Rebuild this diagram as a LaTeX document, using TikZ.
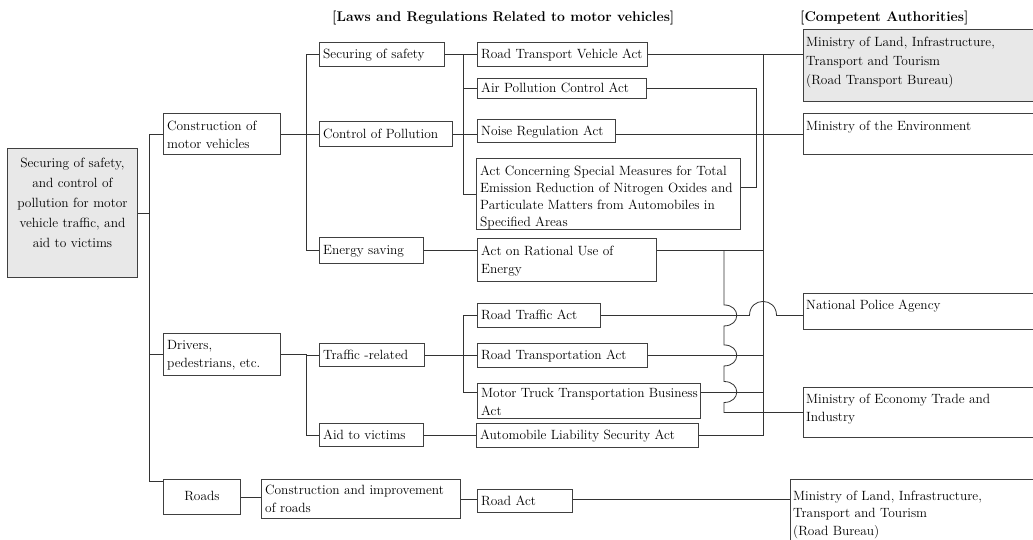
\documentclass[tikz,border=0pt]{standalone}
\newcommand\fs{\fontsize{13.4}{18.5}\selectfont}
\newcommand\fl{\rule{0pt}{11pt}}
\tikzset{
  bx/.style={draw=black!75, line width=0.9pt, anchor=north west, inner sep=0pt},
  gbx/.style={bx, fill=black!9},
  tx/.style={anchor=north west, inner sep=0pt, align=left, font=\fs},
  stx/.style={anchor=base west, inner sep=0pt, font=\fs},
  hd/.style={anchor=west, inner sep=0pt, font=\fontsize{14}{16}\selectfont\bfseries},
  ln/.style={draw=black!80, line width=0.8pt},
}
\begin{document}
\begin{tikzpicture}[x=1pt,y=-1pt]
\clip (0,0) rectangle (1033,540);
\fill[white] (0,0) rectangle (1033,540);
% headers
\node[hd] (hlaw) at (332,18) {[Laws and Regulations Related to motor vehicles]};
\node[hd] (hca) at (800,18) {[Competent Authorities]};
% root
\node[gbx,minimum width=130pt,minimum height=129pt] (root) at (7,148) {};
\node[tx,anchor=north,align=center,text width=130pt,font=\fontsize{13.4}{20}\selectfont] (root-t) at ([yshift=-8pt]root.north) {\fl Securing of safety,\\and control of\\pollution for motor\\vehicle traffic, and\\aid to victims};
% level 1
\node[bx,minimum width=117pt,minimum height=41pt] (cmv) at (163,113) {};
\node[tx] (cmv-t) at ([shift={(4,6)}]cmv.north west) {\fl Construction of\\motor vehicles};
\node[bx,minimum width=117pt,minimum height=42pt] (dpe) at (163,333) {};
\node[tx] (dpe-t) at ([shift={(4,5)}]dpe.north west) {\fl Drivers,\\pedestrians, etc.};
\node[bx,minimum width=77pt,minimum height=35pt] (roads) at (163,479) {};
\node[anchor=base,inner sep=0pt,font=\fs] (roads-t) at ([yshift=-4pt]roads.center) {Roads};
% level 2
\node[bx,minimum width=125pt,minimum height=24pt] (sos) at (319,42) {};
\node[stx] (sos-t) at ([shift={(4,4.5)}]sos.west) {Securing of safety};
\node[bx,minimum width=133pt,minimum height=25pt] (cop) at (319,121) {};
\node[stx] (cop-t) at ([shift={(4,4.5)}]cop.west) {Control of Pollution};
\node[bx,minimum width=104pt,minimum height=26pt] (es) at (319,237) {};
\node[stx] (es-t) at ([shift={(4,4.5)}]es.west) {Energy saving};
\node[bx,minimum width=105pt,minimum height=23pt] (tr) at (319,343) {};
\node[stx] (tr-t) at ([shift={(4,4.5)}]tr.west) {Traffic -related};
\node[bx,minimum width=104pt,minimum height=23pt] (atv) at (319,423) {};
\node[stx] (atv-t) at ([shift={(4,4.5)}]atv.west) {Aid to victims};
\node[bx,minimum width=199pt,minimum height=39pt] (cir) at (261,479) {};
\node[tx] (cir-t) at ([shift={(4,4)}]cir.north west) {\fl Construction and improvement\\of roads};
% laws
\node[bx,minimum width=170pt,minimum height=24pt] (rtva) at (477,42) {};
\node[stx] (rtva-t) at ([shift={(4,4.5)}]rtva.west) {Road Transport Vehicle Act};
\node[bx,minimum width=169pt,minimum height=20pt] (apca) at (477,78) {};
\node[stx] (apca-t) at ([shift={(4,4.5)}]apca.west) {Air Pollution Control Act};
\node[bx,minimum width=138pt,minimum height=23pt] (nra) at (477,119) {};
\node[stx] (nra-t) at ([shift={(4,4.5)}]nra.west) {Noise Regulation Act};
\node[bx,minimum width=264pt,minimum height=71pt] (acsm) at (476,158) {};
\node[tx,font=\fontsize{13.4}{17}\selectfont] (acsm-t) at ([shift={(4,6)}]acsm.north west) {\fl Act Concerning Special Measures for Total\\Emission Reduction of Nitrogen Oxides and\\Particulate Matters from Automobiles in\\Specified Areas};
\node[bx,minimum width=179pt,minimum height=43pt] (arue) at (477,238) {};
\node[tx] (arue-t) at ([shift={(4,6)}]arue.north west) {\fl Act on Rational Use of\\Energy};
\node[bx,minimum width=123pt,minimum height=24pt] (rta) at (477,303) {};
\node[stx] (rta-t) at ([shift={(4,4.5)}]rta.west) {Road Traffic Act};
\node[bx,minimum width=170pt,minimum height=24pt] (rtna) at (477,343) {};
\node[stx] (rtna-t) at ([shift={(4,4.5)}]rtna.west) {Road Transportation Act};
\node[bx,minimum width=223pt,minimum height=35pt] (mtt) at (477,383) {};
\node[tx] (mtt-t) at ([shift={(4,3)}]mtt.north west) {\fl Motor Truck Transportation Business\\Act};
\node[bx,minimum width=222pt,minimum height=24pt] (alsa) at (476,423) {};
\node[stx] (alsa-t) at ([shift={(4,4.5)}]alsa.west) {Automobile Liability Security Act};
\node[bx,minimum width=95pt,minimum height=23pt] (ra) at (477,489) {};
\node[stx] (ra-t) at ([shift={(4,4.5)}]ra.west) {Road Act};
% authorities
\node[gbx,minimum width=240pt,minimum height=72pt] (mlit1) at (803,29) {};
\node[tx,font=\fontsize{13.4}{19}\selectfont] (mlit1-t) at ([shift={(3,6)}]mlit1.north west) {\fl Ministry of Land, Infrastructure,\\Transport and Tourism\\(Road Transport Bureau)};
\node[bx,minimum width=240pt,minimum height=41pt] (moe) at (803,113) {};
\node[tx] (moe-t) at ([shift={(3,6)}]moe.north west) {\fl Ministry of the Environment};
\node[bx,minimum width=240pt,minimum height=36pt] (npa) at (803,293) {};
\node[tx] (npa-t) at ([shift={(3,5)}]npa.north west) {\fl National Police Agency};
\node[bx,minimum width=240pt,minimum height=50pt] (meti) at (803,387) {};
\node[tx] (meti-t) at ([shift={(3,5)}]meti.north west) {\fl Ministry of Economy Trade and\\Industry};
\node[bx,minimum width=250pt,minimum height=80pt] (mlit2) at (790,479) {};
\node[tx,font=\fontsize{13.4}{17.5}\selectfont] (mlit2-t) at ([shift={(3,10)}]mlit2.north west) {\fl Ministry of Land, Infrastructure,\\Transport and Tourism\\(Road Bureau)};
% junction x positions
\coordinate (tx) at (149,0);
\coordinate (j306) at (306,0);
\coordinate (j463) at (463,0);
\coordinate (j724) at (724,0);
\coordinate (j756) at (756,0);
\coordinate (j763) at (763,0);
\coordinate (acsmR) at ([yshift=7pt]acsm.east);
\coordinate (mtt1) at ([yshift=-9pt]mtt.north west);
\coordinate (mtt2) at ([yshift=-9pt]mtt.north east);
% left tree
\draw[ln] (root.east) -- (root.east -| tx);
\draw[ln] (cmv.west) -- (cmv.west -| tx) -- ([yshift=-2pt]roads.north west -| tx) -- ([yshift=-2pt]roads.north west);
\draw[ln] (dpe.west -| tx) -- (dpe.west);
\draw[ln] (cmv.east) -- (cmv.east -| cop.west);
\draw[ln] (sos.west) -| (j306 |- es.west) -- (es.west);
\draw[ln] (dpe.east) -| (j306 |- atv.west) -- (atv.west);
\draw[ln] (j306 |- tr.west) -- (tr.west);
\draw[ln] (sos.east) -- (rtva.west);
\draw[ln] (j463 |- sos.east) |- (acsm.west);
\draw[ln] (j463 |- apca.west) -- (apca.west);
\draw[ln] (cop.east) -- (cop.east -| nra.west);
\draw[ln] (es.east) -- (es.east -| arue.west);
\draw[ln] (tr.east) -- (tr.east -| rtna.west);
\draw[ln] (rta.west) -| (j463 |- mtt1) -- (mtt1);
\draw[ln] (atv.east) -- (atv.east -| alsa.west);
\draw[ln] (roads.east) -- (roads.east -| cir.west);
\draw[ln] (cir.east) -- (cir.east -| ra.west);
\draw[ln] (ra.east |- cir.east) -- (cir.east -| mlit2.west);
% right side
\draw[ln] (rtva.east) -- (rtva.east -| mlit1.west);
\draw[ln] (j763 |- rtva.east) -- (j763 |- alsa.east) -- (alsa.east);
\draw[ln] (apca.east) -| (j756 |- acsmR) -- (acsmR);
\draw[ln] (cop.east -| nra.east) -- (cop.east -| moe.west);
\draw[ln] (es.east -| arue.east) -- (es.east -| j763);
\draw[ln] (rtna.east) -- (rtna.east -| j763);
\draw[ln] (mtt2) -- (mtt2 -| j763);
\draw[ln] (es.east -| j724)
  -- ([yshift=10.5pt]rta.east -| j724) .. controls +(17,0) and +(17,0) .. ([yshift=-10.5pt]rta.east -| j724)
  -- ([yshift=10.5pt]rtna.east -| j724) .. controls +(17,0) and +(17,0) .. ([yshift=-10.5pt]rtna.east -| j724)
  -- ([yshift=10.5pt]mtt2 -| j724) .. controls +(17,0) and +(17,0) .. ([yshift=-10.5pt]mtt2 -| j724)
  -- (meti.west -| j724) -- (meti.west);
\draw[ln] (rta.east) -- ([xshift=-13.5pt]rta.east -| j763) .. controls +(0,-18.7) and +(0,-18.7) .. ([xshift=13.5pt]rta.east -| j763) -- (rta.east -| npa.west);
\end{tikzpicture}
\end{document}
